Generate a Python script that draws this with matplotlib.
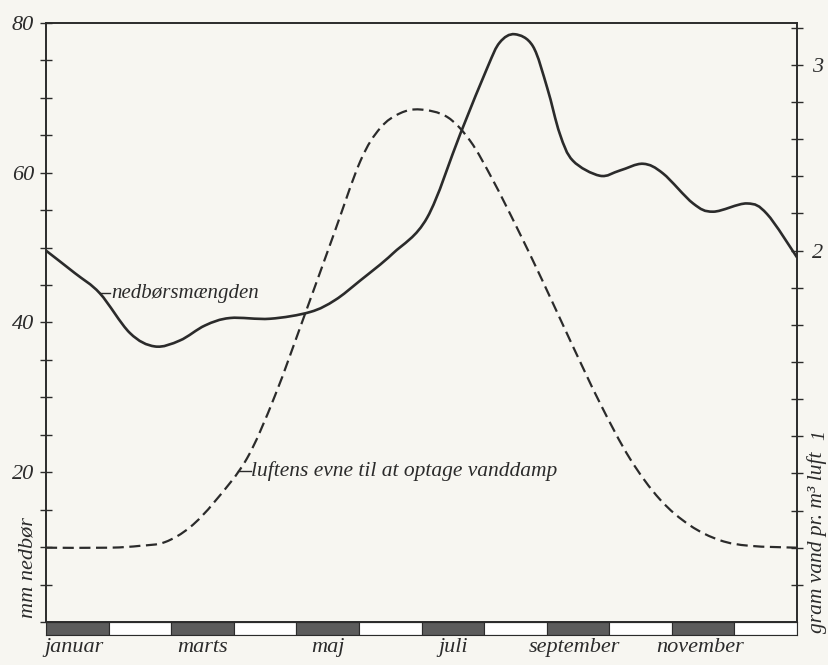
import matplotlib.pyplot as plt
import numpy as np
from matplotlib.path import Path
from matplotlib.patches import PathPatch

plt.rcParams['font.family'] = 'Liberation Serif'
plt.rcParams['font.style'] = 'italic'

# month axis: 0 = start of January, 12 = end of December
months = ["januar", "marts", "maj", "juli", "september", "november"]
month_pos = [0.45, 2.5, 4.5, 6.5, 8.45, 10.45]

# precipitation, mm per month (left axis)
rain_x = [0.00, 0.46, 0.86, 1.34, 1.74, 2.14, 2.54, 2.94, 3.58, 4.22, 4.62,
          5.02, 5.54, 6.09, 6.62, 7.05, 7.25, 7.49, 7.78, 8.01, 8.21, 8.42,
          8.85, 9.17, 9.54, 9.86, 10.34, 10.66, 11.20, 11.52, 12.00]
rain_mm = [49.6, 46.6, 43.9, 38.6, 36.8, 37.6, 39.6, 40.6, 40.5, 41.4, 43.0,
           45.6, 49.2, 54.0, 65.2, 74.0, 77.4, 78.5, 76.9, 71.3, 65.2, 61.6,
           59.6, 60.3, 61.2, 59.9, 55.9, 54.8, 55.9, 54.5, 48.7]

# capacity of air to hold water vapour, g per m3 (right axis)
vapour_x = [0.00, 1.00, 1.50, 1.90, 2.30, 2.70, 3.21, 3.66, 4.14, 4.59, 5.02,
            5.34, 5.66, 5.98, 6.41, 6.78, 7.14, 7.53, 7.93, 8.37, 8.85, 9.33,
            9.81, 10.29, 10.77, 11.25, 12.00]
vapour_g = [0.40, 0.40, 0.41, 0.43, 0.51, 0.65, 0.88, 1.22, 1.66, 2.08, 2.48,
            2.66, 2.74, 2.76, 2.72, 2.59, 2.38, 2.12, 1.84, 1.52, 1.18, 0.88,
            0.66, 0.52, 0.44, 0.41, 0.40]

mm_per_gram = 24.8
ink = '#2b2b2b'
paper = '#f7f6f1'


def smooth_curve(xs, ys):
    # Catmull-Rom through the points, written as cubic Bezier segments
    pts = np.column_stack([xs, ys]).astype(float)
    verts = [pts[0]]
    codes = [Path.MOVETO]
    n = len(pts)
    for i in range(n - 1):
        p0 = pts[max(i - 1, 0)]
        p1 = pts[i]
        p2 = pts[i + 1]
        p3 = pts[min(i + 2, n - 1)]
        verts += [p1 + (p2 - p0) / 6, p2 - (p3 - p1) / 6, p2]
        codes += [Path.CURVE4] * 3
    return Path(verts, codes)


fig = plt.figure(figsize=(8.29, 6.65), dpi=100, facecolor=paper)
ax = fig.add_axes([0.0555, 0.0647, 0.9059, 0.9007])
ax.set_facecolor(paper)
ax.add_patch(PathPatch(smooth_curve(rain_x, rain_mm), fill=False,
                       edgecolor=ink, lw=1.9, capstyle='round'))
ax.set_xlim(0, 12)
ax.set_ylim(0, 80)
ax.set_xticks([])
left_ticks = np.arange(0, 81, 5)
ax.set_yticks(left_ticks)
ax.set_yticklabels([str(t) if t in (20, 40, 60, 80) else '' for t in left_ticks])
ax.tick_params(axis='y', direction='inout', length=9, width=1, color=ink,
               labelsize=16, labelcolor=ink, pad=4)
for s in ax.spines.values():
    s.set_color(ink)
    s.set_linewidth(1.2)

ax2 = ax.twinx()
ax2.add_patch(PathPatch(smooth_curve(vapour_x, vapour_g), fill=False,
                        edgecolor=ink, lw=1.6, linestyle=(0, (5, 2.5))))
ax2.set_ylim(0, 80 / mm_per_gram)
right_ticks = np.round(np.arange(1, 17) * 0.2, 1)
ax2.set_yticks(right_ticks)
ax2.set_yticklabels([str(int(t)) if t in (1.0, 2.0, 3.0) else '' for t in right_ticks])
ax2.tick_params(axis='y', direction='inout', length=9, width=1, color=ink,
                labelsize=16, labelcolor=ink, pad=6)
for lab, t in zip(ax2.get_yticklabels(), right_ticks):
    if t == 1.0:
        lab.set_rotation(90)
        lab.set_fontsize(14)
for s in ax2.spines.values():
    s.set_color(ink)
    s.set_linewidth(1.2)

# curve labels with short leader lines
ax.plot([0.86, 1.03], [43.9, 43.9], color=ink, lw=1)
ax.text(1.04, 43.9, 'nedbørsmængden', va='center', ha='left', size=15, color=ink)
ax.plot([3.07, 3.27], [20.2, 20.2], color=ink, lw=1)
ax.text(3.28, 20.2, 'luftens evne til at optage vanddamp', va='center', ha='left',
        size=15.5, color=ink)

# month strip along the bottom
strip = fig.add_axes([0.0555, 0.0451, 0.9059, 0.0196])
shades = ['#5c5c5c' if i % 2 == 0 else 'white' for i in range(12)]
strip.bar(np.arange(12) + 0.5, np.ones(12), width=1, color=shades,
          edgecolor=ink, linewidth=0.8)
strip.set_xlim(0, 12)
strip.set_ylim(0, 1)
strip.set_yticks([])
strip.set_xticks(month_pos)
strip.set_xticklabels(months)
strip.tick_params(axis='x', length=0, labelsize=16, labelcolor=ink, pad=2)
for s in strip.spines.values():
    s.set_color(ink)

fig.text(0.034, 0.147, 'mm nedbør', rotation=90, ha='center', va='center',
         size=16, color=ink)
fig.text(0.986, 0.185, 'gram vand pr. m³ luft', rotation=90, ha='center',
         va='center', size=15.5, color=ink)

fig.savefig('out.png', dpi=100, facecolor=paper)
